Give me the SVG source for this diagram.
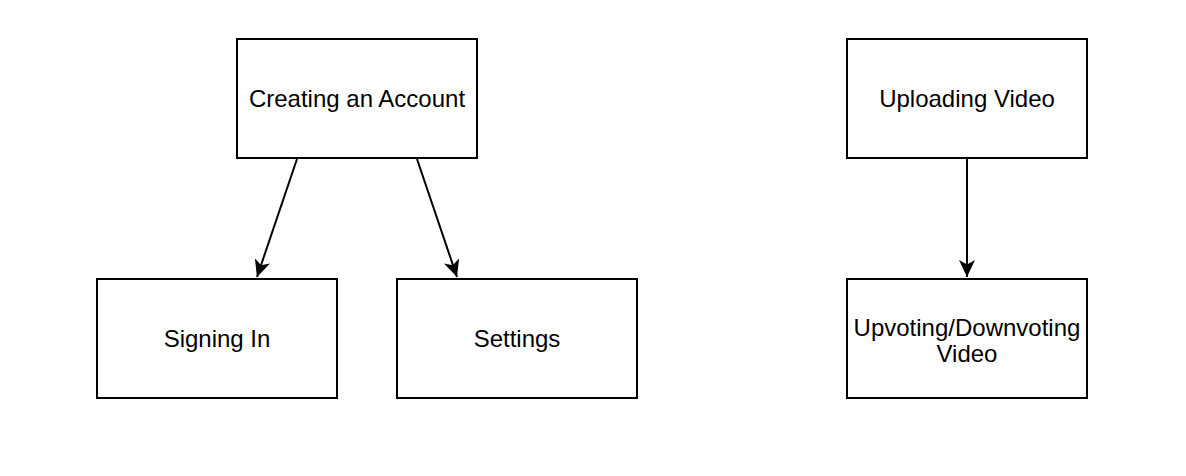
<svg xmlns="http://www.w3.org/2000/svg" width="1186" height="476" viewBox="0 0 1186 476">
<style>
.box{fill:#fff;stroke:#000;stroke-width:2}
.lbl{font-family:"Liberation Sans",Arial,sans-serif;font-size:24px;fill:#000;text-anchor:middle}
.edge{stroke:#000;stroke-width:2;fill:none}
</style>
<defs>
<marker id="arr" markerWidth="18" markerHeight="18" viewBox="0 0 18 18" refX="17" refY="9" orient="auto" markerUnits="userSpaceOnUse">
<path d="M0,1 L17,9 L0,17 L4.5,9 Z" fill="#000"/>
</marker>
</defs>
<rect width="1186" height="476" fill="#fff"/>
<g id="edges">
<line class="edge" x1="297" y1="159" x2="257" y2="277" marker-end="url(#arr)"/>
<line class="edge" x1="417" y1="159" x2="457" y2="277" marker-end="url(#arr)"/>
<line class="edge" x1="967" y1="159" x2="967" y2="277" marker-end="url(#arr)"/>
</g>
<g id="n-create"><rect class="box" x="237" y="39" width="240" height="119"/><text class="lbl" x="357" y="107">Creating an Account</text></g>
<g id="n-signin"><rect class="box" x="97" y="279" width="240" height="119"/><text class="lbl" x="217" y="347">Signing In</text></g>
<g id="n-settings"><rect class="box" x="397" y="279" width="240" height="119"/><text class="lbl" x="517" y="347">Settings</text></g>
<g id="n-upload"><rect class="box" x="847" y="39" width="240" height="119"/><text class="lbl" x="967" y="107">Uploading Video</text></g>
<g id="n-vote"><rect class="box" x="847" y="279" width="240" height="119"/><text class="lbl" x="967" y="336">Upvoting/Downvoting</text><text class="lbl" x="967" y="362">Video</text></g>
</svg>
